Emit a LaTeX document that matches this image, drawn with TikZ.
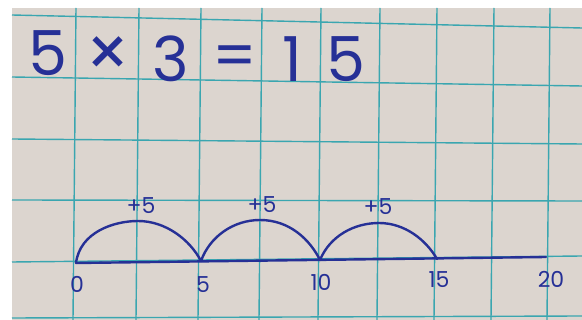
\documentclass[tikz,border=0pt]{standalone}
\usepackage{fontspec}
\setmainfont{Poppins}
\definecolor{paper}{RGB}{220,213,207}
\definecolor{gridc}{RGB}{58,166,176}
\definecolor{ink}{RGB}{38,48,150}
\tikzset{
  gridline/.style={draw=gridc, line width=1.4pt},
  inkline/.style={draw=ink, line width=2.4pt, line cap=round, line join=round},
  bigtxt/.style={text=ink, font=\fontsize{62}{62}\selectfont, inner sep=0pt},
  smalltxt/.style={text=ink, font=\fontsize{22}{22}\selectfont, inner sep=0pt},
}
\begin{document}
\begin{tikzpicture}[x=1pt,y=-1pt]
\useasboundingbox (0,0) rectangle (582,320);
\fill[white] (0,0) rectangle (582,320);
\fill[paper] (12,8) rectangle (582,320);
% grid: vertical lines
\foreach \x in {75,138,200,261,320,379,436,493,549}
  \draw[gridline] (\x+1,8) -- (\x-2,320);
% grid: horizontal lines (slight perspective)
\foreach \a/\b in {15/28, 77/86, 139/144, 200/201, 262/256, 318/316}
  \draw[gridline] (12,\a) -- (582,\b);
% equation
\node[bigtxt] (e1) at (48,53) {5};
\node[bigtxt, font=\fontsize{70}{70}\selectfont] (e2) at (108,57) {×};
\node[bigtxt] (e3) at (171,59) {3};
\node[bigtxt] (e4) at (235,62) {=};
\node[bigtxt] (e5) at (292,59) {1};
\node[bigtxt] (e6) at (346,59) {5};
% number line
\coordinate (t0) at (76,263);
\coordinate (t5) at (201,261);
\coordinate (t10) at (320,260);
\coordinate (t15) at (437,259);
\coordinate (t20) at (546,257);
\draw[inkline] (t0) -- (t20);
% jumps
\coordinate (p1) at (138,221);
\coordinate (p2) at (260,220);
\coordinate (p3) at (379,223);
\draw[inkline] (t0) .. controls (80,232) and (114,221) .. (p1)
  .. controls (166,221) and (190,240) .. (t5);
\draw[inkline] (t5) .. controls (210,236) and (234,220) .. (p2)
  .. controls (290,220) and (310,240) .. (t10);
\draw[inkline] (t10) .. controls (330,236) and (354,223) .. (p3)
  .. controls (405,223) and (426,240) .. (t15);
% jump labels
\node[smalltxt] (j1) at (141,206) {+5};
\node[smalltxt] (j2) at (262,205) {+5};
\node[smalltxt] (j3) at (378,207) {+5};
% tick labels
\node[smalltxt] (l0) at (77,284) {0};
\node[smalltxt] (l5) at (203,285) {5};
\node[smalltxt] (l10) at (321,282) {10};
\node[smalltxt] (l15) at (439,280) {15};
\node[smalltxt] (l20) at (551,279) {20};
\end{tikzpicture}
\end{document}
